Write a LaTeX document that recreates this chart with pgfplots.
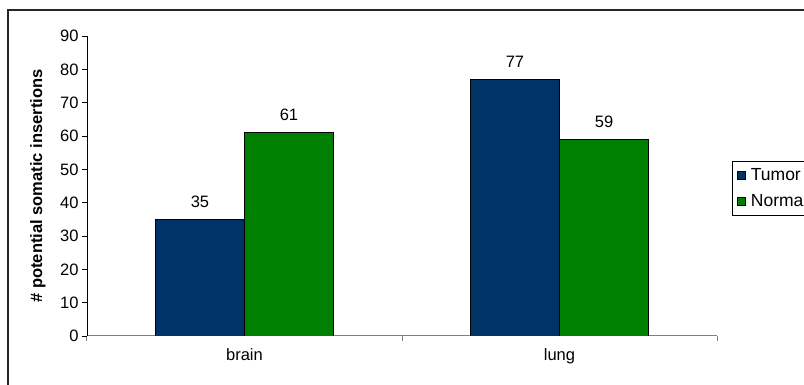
\documentclass[border=0pt]{standalone}
\usepackage{pgfplots}
\pgfplotsset{compat=1.18}
\usepackage{fontspec}
\setmainfont{Liberation Sans}
\definecolor{tumor}{HTML}{003366}
\definecolor{normal}{HTML}{008000}
\newcommand{\chartfont}{\fontsize{16.5}{19}\selectfont}
\newcommand{\legendfont}{\fontsize{17.5}{20}\selectfont}
\pgfplotsset{
  sq legend/.style={legend image code/.code={
    \draw[##1,draw=black,line width=0.6pt] (0pt,-4pt) rectangle (8pt,4pt);}},
}
\begin{document}
\begin{tikzpicture}[x=1pt,y=1pt]
\useasboundingbox (0,0) rectangle (804,385);
\clip (0,0) rectangle (804,385);
\fill[white] (0,0) rectangle (804,385);
% chart frame (runs past the right and bottom edges)
\draw[line width=1.5pt, black!85] (8,375) rectangle (860,-40);
\begin{axis}[
  at={(87pt,49pt)}, anchor=south west,
  scale only axis, width=630pt, height=300pt,
  xmin=-0.5, xmax=1.5, ymin=0, ymax=90,
  ybar, bar width=89pt,
  ytick={0,10,...,90},
  xtick={-0.5,0.5,1.5}, xticklabels={},
  extra x ticks={0,1}, extra x tick labels={brain,lung},
  extra x tick style={major tick length=0pt, xticklabel style={yshift=-9pt}},
  axis x line*=bottom, axis y line*=left,
  x axis line style={-, draw=gray, line width=1pt},
  y axis line style={-, draw=black, line width=0.8pt},
  tick align=outside, major tick length=5pt,
  x tick style={draw=gray, line width=1pt},
  y tick style={draw=black, line width=0.8pt},
  /pgf/number format/assume math mode=true,
  tick label style={font=\chartfont, text=black},
  every axis y label/.style={at={(axis description cs:-0.0778,0.5)}, rotate=90,
    anchor=center, font=\chartfont\bfseries},
  ylabel={\# potential somatic insertions},
  legend style={at={(axis description cs:1.0238,0.583)}, anchor=north west,
    draw=black, line width=0.6pt, font=\legendfont, inner xsep=5pt, inner ysep=5pt,
    row sep=8pt, /tikz/every odd column/.append style={column sep=3pt}},
  legend cell align=left,
  nodes near coords,
  every node near coord/.append style={font=\chartfont, text=black, yshift=8pt},
]
\addplot[sq legend, bar shift=-44.5pt, fill=tumor, draw=black, line width=0.6pt]
  coordinates {(0,35) (1,77)};
\addlegendentry{Tumor}
\addplot[sq legend, bar shift=44.5pt, fill=normal, draw=black, line width=0.6pt]
  coordinates {(0,61) (1,59)};
\addlegendentry{Normal}
\end{axis}
\end{tikzpicture}
\end{document}
